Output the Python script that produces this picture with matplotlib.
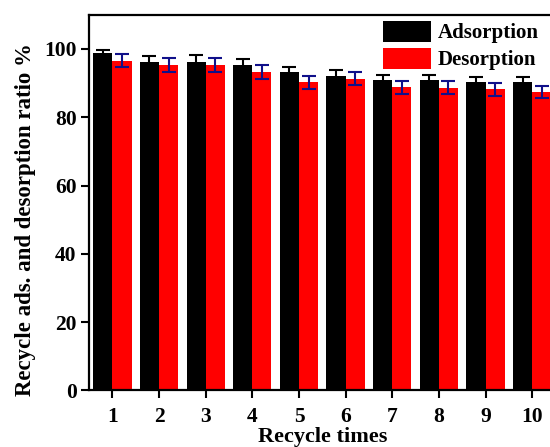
import numpy as np
import matplotlib.pyplot as plt

# recycle experiment results (%)
cycles = [1, 2, 3, 4, 5, 6, 7, 8, 9, 10]
adsorption = [98.8, 96.2, 96.3, 95.2, 93.2, 92.1, 90.9, 90.8, 90.3, 90.3]
adsorption_err = [1.0, 1.8, 1.8, 1.7, 1.6, 1.7, 1.6, 1.6, 1.6, 1.6]
desorption = [96.6, 95.2, 95.3, 93.2, 90.2, 91.2, 88.8, 88.7, 88.2, 87.4]
desorption_err = [2.0, 2.0, 2.0, 2.0, 2.0, 1.9, 1.9, 1.9, 1.9, 1.8]

plt.rcParams['font.family'] = ['Liberation Serif', 'DejaVu Serif']
plt.rcParams['font.weight'] = 'bold'

fig = plt.figure(figsize=(5.5, 4.47), dpi=100)
ax = fig.add_axes([0.162, 0.1264, 0.848, 0.8406])

x = np.array(cycles)
w = 0.41
ax.bar(x - w / 2, adsorption, w, color='black', label='Adsorption',
       yerr=adsorption_err, error_kw=dict(ecolor='black', elinewidth=1.5,
                                          capsize=5, capthick=1.5))
ax.bar(x + w / 2, desorption, w, color='#ff0000', label='Desorption',
       yerr=desorption_err, error_kw=dict(ecolor='#10108a', elinewidth=1.5,
                                          capsize=5, capthick=1.5))

ax.set_xlim(0.5, 10.5)
ax.set_ylim(0, 110)
ax.set_xticks(cycles)
ax.set_yticks([0, 20, 40, 60, 80, 100])
ax.tick_params(direction='out', length=6, width=1.5, labelsize=15.5, pad=3)
ax.tick_params(axis='x', pad=6)
for s in ax.spines.values():
    s.set_linewidth(1.6)

ax.set_xlabel('Recycle times', fontsize=16, fontweight='bold', labelpad=0)
ax.set_ylabel('Recycle ads. and desorption ratio %', fontsize=16.5,
              fontweight='bold')
ax.yaxis.set_label_coords(-0.113, 0.455)

ax.legend(loc='upper left', bbox_to_anchor=(0.678, 0.977),
          bbox_transform=fig.transFigure, frameon=False, fontsize=15,
          handlelength=2.3, handleheight=1.2, handletextpad=0.3,
          labelspacing=0.2, borderpad=0)

fig.savefig('out.png', dpi=100)
